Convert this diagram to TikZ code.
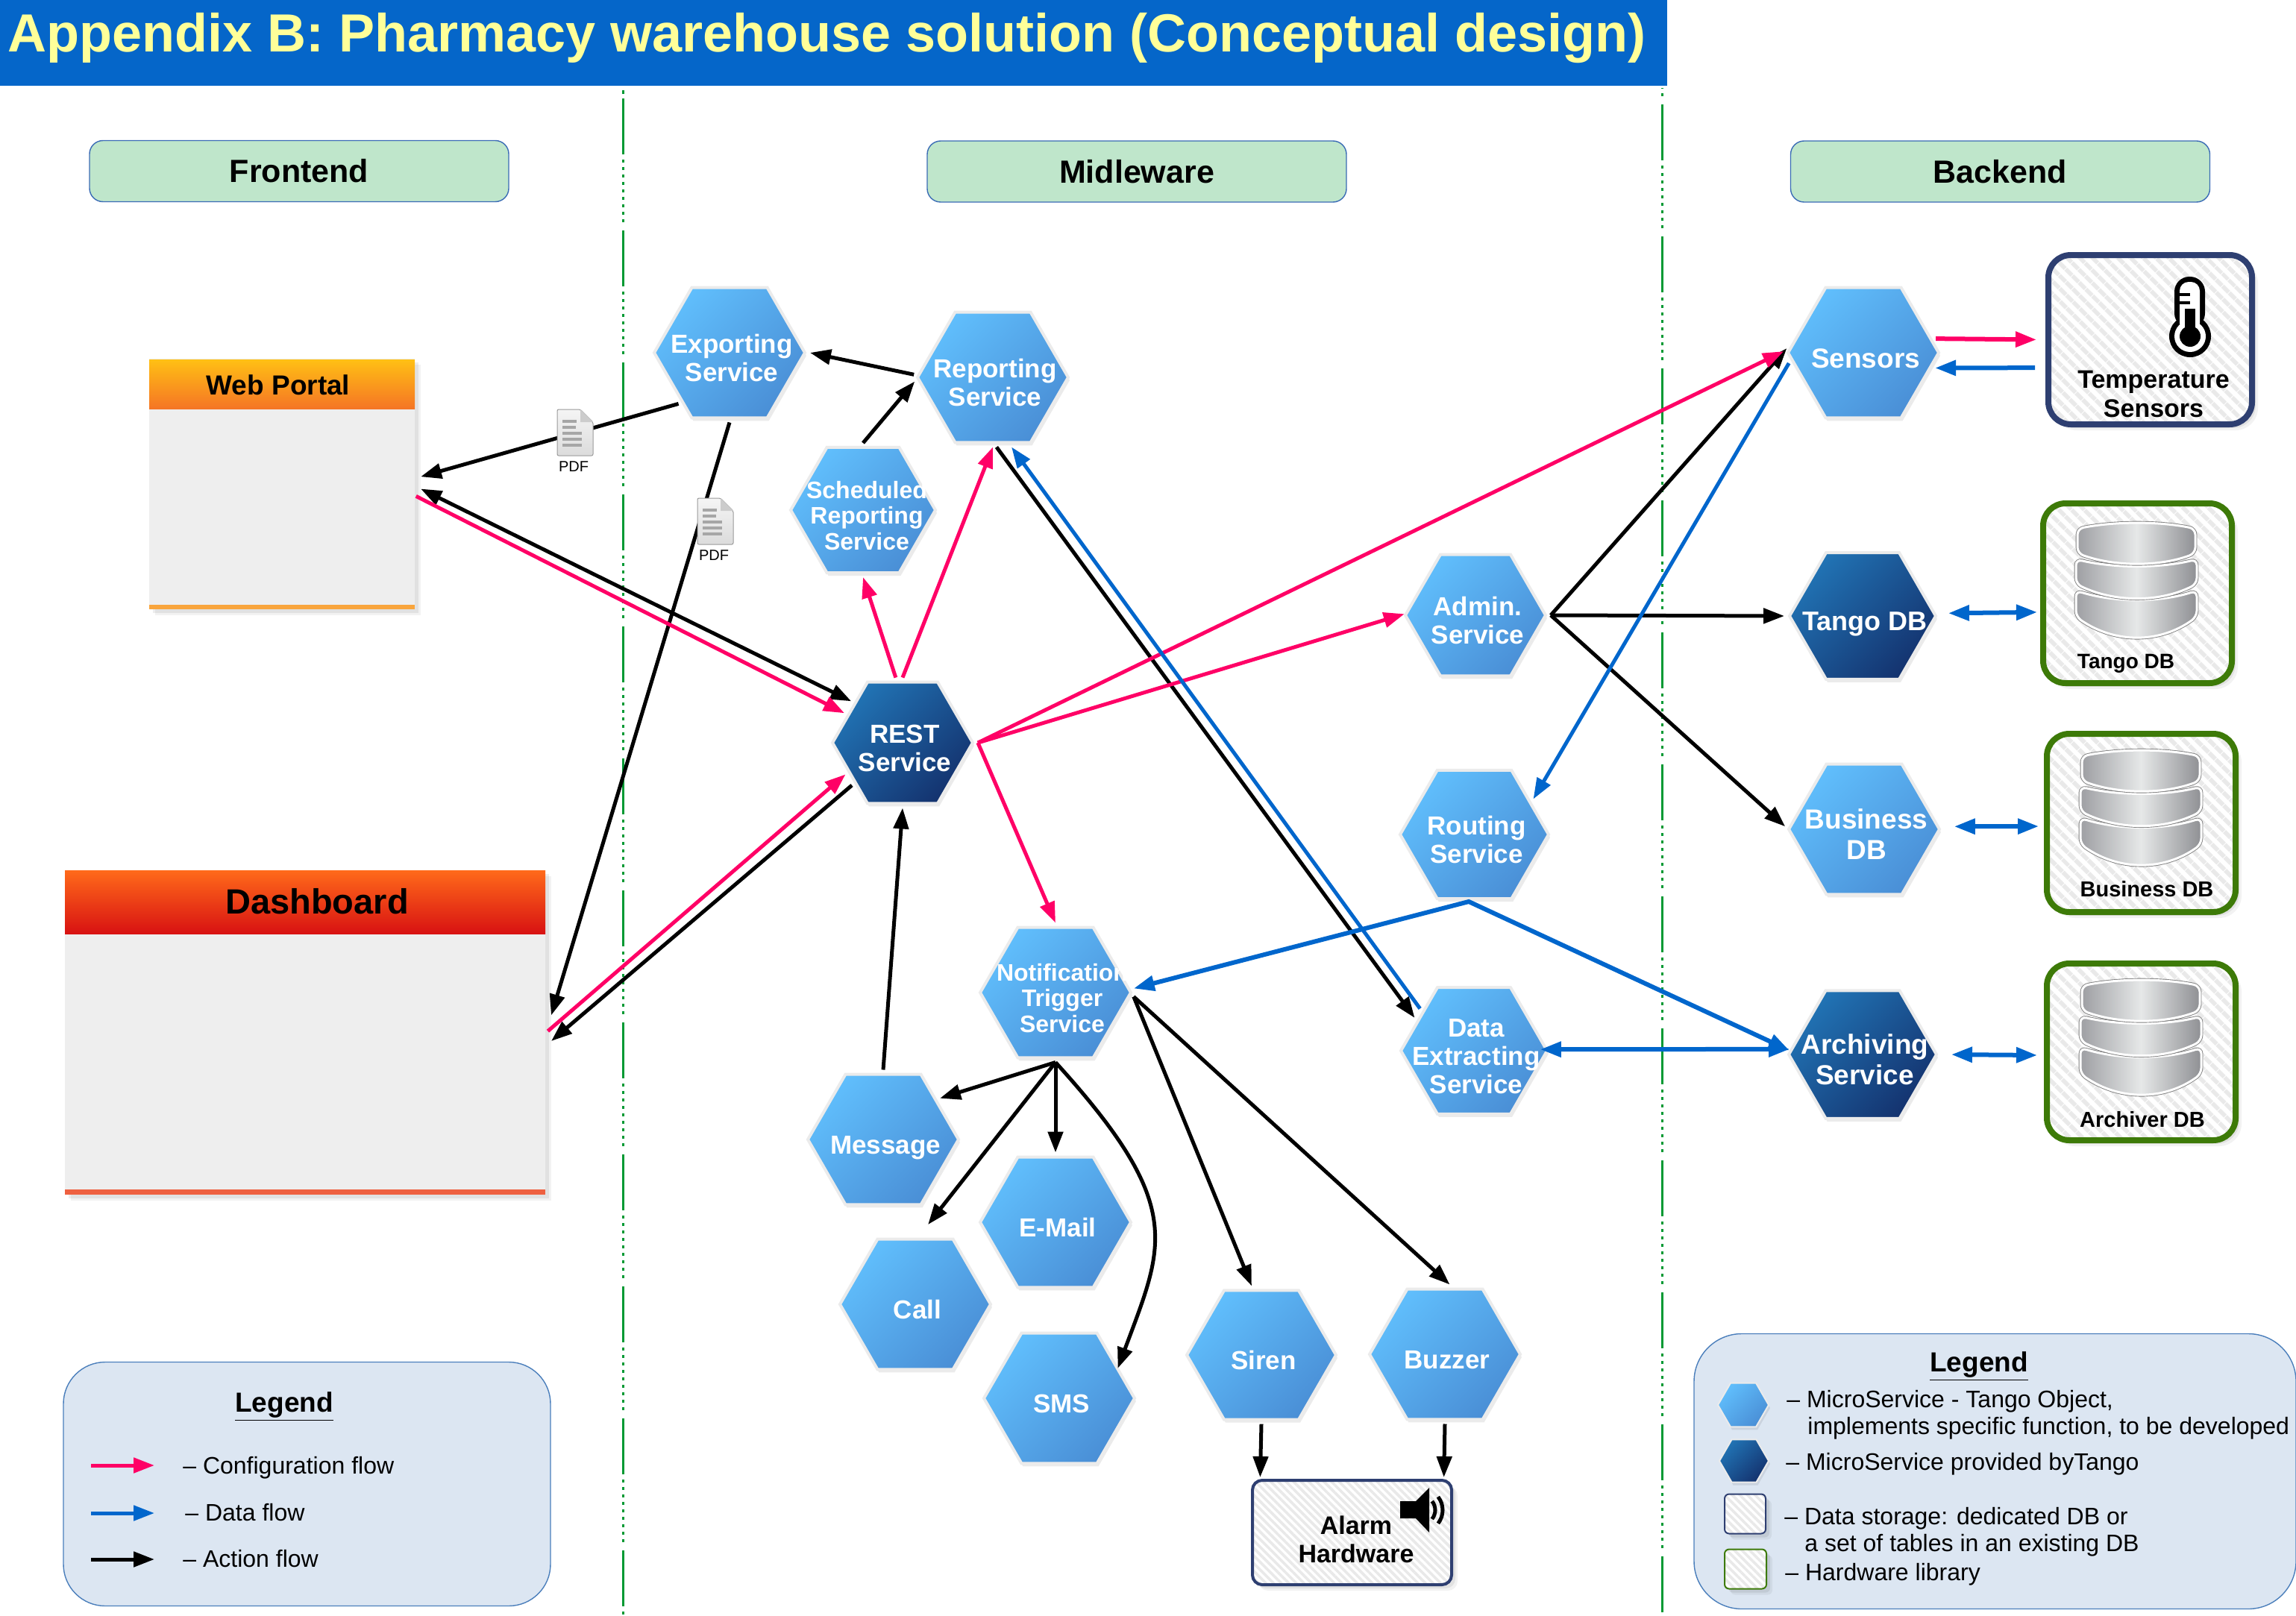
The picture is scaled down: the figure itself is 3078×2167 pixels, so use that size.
\documentclass[tikz,border=0pt]{standalone}
\usepackage{fontspec}
\setmainfont{Liberation Sans}
\usetikzlibrary{arrows.meta,shapes.geometric,shadows,patterns.meta}
\definecolor{titleblue}{HTML}{0566C9}
\definecolor{titleyellow}{HTML}{FFFF99}
\definecolor{divgreen}{HTML}{009933}
\definecolor{hdrgreen}{HTML}{BFE6CB}
\definecolor{edgeblue}{HTML}{3A6BB5}
\definecolor{legfill}{HTML}{DCE6F2}
\definecolor{legedge}{HTML}{4A7EBB}
\definecolor{hexa}{HTML}{60BEFC}
\definecolor{hexb}{HTML}{4A8FD6}
\definecolor{hexc}{HTML}{2173B4}
\definecolor{hexd}{HTML}{14336F}
\definecolor{hexedge}{HTML}{EBEBEB}
\definecolor{navybox}{HTML}{2E3F71}
\definecolor{greenbox}{HTML}{3D7A08}
\definecolor{hatchgray}{HTML}{E9E9E9}
\definecolor{panelgray}{HTML}{EEEEEE}
\definecolor{flowpinkc}{HTML}{FF0066}
\definecolor{flowbluec}{HTML}{0066CC}
\definecolor{webtop}{HTML}{FFC014}
\definecolor{webbot}{HTML}{F57525}
\definecolor{webstrip}{HTML}{F9A53C}
\definecolor{dashtop}{HTML}{FF6A1A}
\definecolor{dashbot}{HTML}{D81212}
\definecolor{dashstrip}{HTML}{EE6040}
\definecolor{dbleft}{HTML}{9E9FA3}
\definecolor{dbmid}{HTML}{E6E8E8}
\definecolor{dbright}{HTML}{8F9094}
\newcommand\hxat[3]{\pgfmathsetmacro\hxbl{#1*1.09}\fontsize{#1}{\hxbl}\selectfont\smash{\makebox[0pt]{\hspace{#2}\raisebox{-10.3pt}{\begin{tabular}{@{}c@{}}#3\end{tabular}}}}}
\newcommand\hx[2][17.5]{\hxat{#1}{3pt}{#2}}
\newcommand\dbicon[2]{%
  \begin{scope}[shift={(#1,#2)}]
    \path[dblayer] (-2,90) .. controls (50,106) and (110,106) .. (160,90) -- (160,125) .. controls (110,161) and (50,161) .. (-2,125) -- cycle;
    \path[dblayer] (-2,48) .. controls (50,60) and (110,60) .. (160,48) -- (160,81) .. controls (110,106) and (50,106) .. (-2,81) -- cycle;
    \path[dblayer] (0,7) .. controls (50,-3) and (110,-3) .. (158,7) -- (158,40) .. controls (110,58) and (50,58) .. (0,40) -- cycle;
  \end{scope}}
\newcommand\pdficon[2]{%
  \begin{scope}[shift={(#1,#2)}]
    \path[draw=black!40,line width=.5pt,top color=white!96!black,bottom color=black!14,rounded corners=1pt] (0,0) -- (31,0) -- (48,17) -- (48,62) -- (0,62) -- cycle;
    \fill[black!20] (31,0) -- (31,17) -- (48,17) -- cycle;
    \foreach \yy/\xx in {16/26,24/25,32/33,40/33,48/33}{\draw[black!35,line width=1.8pt] (7,\yy) -- (\xx,\yy);}
  \end{scope}}
\tikzset{
  x=.5pt,y=-.5pt,
  softshadow/.style={drop shadow={shadow xshift=4pt,shadow yshift=-4pt,opacity=.05,fill=black},drop shadow={shadow xshift=2.5pt,shadow yshift=-2.5pt,opacity=.07,fill=black}},
  hexbase/.style={regular polygon,regular polygon sides=6,inner sep=0pt,outer sep=3pt,minimum size=101pt,draw=hexedge,line width=2pt,text=white,font=\bfseries,drop shadow={shadow xshift=1pt,shadow yshift=-2pt,opacity=.08,fill=black}},
  lhex/.style={hexbase,top color=hexa,bottom color=hexb,shading angle=45},
  dhex/.style={hexbase,top color=hexc,bottom color=hexd,shading angle=45},
  hdr/.style={rectangle,rounded corners=9pt,draw=edgeblue,line width=.7pt,fill=hdrgreen,minimum width=281pt,minimum height=41pt,inner sep=0pt,font=\fontsize{21.5}{25}\selectfont\bfseries},
  panel/.style={rectangle,fill=panelgray,inner sep=0pt,outer sep=4pt,softshadow},
  hatchbox/.style={rectangle,softshadow,preaction={fill=white},pattern={Lines[angle=-45,distance=6.5pt,line width=3.2pt]},pattern color=hatchgray,inner sep=0pt,outer sep=2pt,rounded corners=15pt,line width=4pt},
  finehatch/.style={rectangle,softshadow,preaction={fill=white},pattern={Lines[angle=-45,distance=3.6pt,line width=1.8pt]},pattern color=hatchgray,inner sep=0pt,outer sep=2pt},
  txt/.style={inner sep=0pt,font=\bfseries},
  legt/.style={inner sep=0pt,anchor=base west,font=\fontsize{16}{19}\selectfont},
  legbox/.style={rectangle,draw=legedge,line width=.7pt,fill=legfill,inner sep=0pt},
  divider/.style={divgreen,line width=1.5pt,dash pattern={on 37.5pt off 3.5pt on 2pt off 3pt on 2pt off 3pt on 2pt off 3pt on 2pt off 3pt on 2pt off 3pt on 2pt off 3pt on 2pt off 3pt on 2pt off 3pt on 2pt off 5.5pt}},
  conn/.style={line width=2.5pt,-{Triangle[length=14pt,width=10pt]}},
  both/.style={line width=3pt,{Triangle[length=14pt,width=10pt]}-{Triangle[length=14pt,width=10pt]}},
  flowpink/.style={conn,color=flowpinkc},
  flowblue/.style={conn,color=flowbluec},
  flowblack/.style={conn,color=black},
  dblayer/.style={preaction={draw=black!50,line width=2.4pt},draw=white,line width=1.5pt,left color=dbleft,right color=dbright,middle color=dbmid,rounded corners=4pt},
}
\begin{document}
\begin{tikzpicture}
\path[use as bounding box] (0,0) rectangle (3078,2167);
% dividers
\coordinate (d0a) at (835,121); \coordinate (d0b) at (835,126);
\coordinate (d1a) at (835,122); \coordinate (d1b) at (835,2167);
\coordinate (d2a) at (2228,118); \coordinate (d2b) at (2228,2167);
\draw[divgreen,line width=1.5pt] (d0a) -- (d0b);
\draw[divider,dash phase=83.5pt] (d1a) -- (d1b);
\draw[divider,dash phase=77.5pt] (d2a) -- (d2b);
% title
\node[rectangle,fill=titleblue,minimum width=1117.5pt,minimum height=57.5pt,inner sep=0pt] (titlebar) at (1117.5,57.5) {};
\node[anchor=base west,inner sep=0pt,text=titleyellow,font=\fontsize{36}{40}\selectfont\bfseries] (title) at (10,70) {Appendix B: Pharmacy warehouse solution (Conceptual design)};
% column heads
\node[hdr] (front) at (401,229.5) {Frontend};
\node[hdr] (mid) at (1524,230) {Midleware};
\node[hdr] (back) at (2681.5,230) {Backend};
% web portal
\node[panel,minimum width=178pt,minimum height=168pt] (web) at (378,649) {};
\node[rectangle,top color=webtop,bottom color=webbot,minimum width=178pt,minimum height=33pt,inner sep=0pt] (webhead) at (378,515) {};
\node[txt,font=\fontsize{18.5}{22}\selectfont\bfseries] (webtext) at (373,516) {Web Portal};
\fill[webstrip] (200,811) rectangle (556,817);
% dashboard
\node[panel,minimum width=322pt,minimum height=217.5pt] (dashb) at (409,1384.5) {};
\node[rectangle,top color=dashtop,bottom color=dashbot,minimum width=322pt,minimum height=42.5pt,inner sep=0pt] (dashhead) at (409,1209.5) {};
\node[txt,font=\fontsize{23.5}{27}\selectfont\bfseries] (dashtext) at (425,1209) {Dashboard};
\fill[dashstrip] (87,1595) rectangle (731,1602);
% hardware and storage boxes
\node[hatchbox,draw=navybox,minimum width=136.5pt,minimum height=113.5pt] (temp) at (2882.5,455.5) {};
\node[hatchbox,draw=greenbox,minimum width=126.5pt,minimum height=120.5pt] (tangobox) at (2865.5,795.5) {};
\node[hatchbox,draw=greenbox,minimum width=126.5pt,minimum height=119.5pt] (bizbox) at (2870.5,1103.5) {};
\node[hatchbox,draw=greenbox,minimum width=126.5pt,minimum height=118.5pt] (archbox) at (2870.5,1410.5) {};
\node[finehatch,draw=navybox,rounded corners=6.5pt,line width=2pt,minimum width=133.5pt,minimum height=70pt] (alarm) at (1812.5,2055) {};
\node[txt,align=center,font=\fontsize{17}{19.5}\selectfont\bfseries] (temptext) at (2887,528) {Temperature\\Sensors};
\node[txt,align=center,font=\fontsize{17}{19}\selectfont\bfseries] (alarmtext) at (1818,2064) {Alarm\\Hardware};
\dbicon{2785}{702}
\dbicon{2791}{1007}
\dbicon{2791}{1315}
\node[txt,font=\fontsize{14}{16}\selectfont\bfseries] (tangolab) at (2850,890) {Tango DB};
\node[txt,font=\fontsize{14.5}{16}\selectfont\bfseries] (bizlab) at (2878,1192) {Business DB};
\node[txt,font=\fontsize{14.5}{16}\selectfont\bfseries] (archlab) at (2872,1501) {Archiver DB};
% thermometer
\fill[black] (2936,451) circle[radius=28];
\fill[black,rounded corners=10pt] (2915,371) rectangle (2956,440);
\fill[white] (2936,451) circle[radius=21];
\fill[white,rounded corners=6pt] (2922,378) rectangle (2949,445);
\fill[black] (2936,451) circle[radius=14];
\fill[black] (2929,414) rectangle (2943,451);
\fill[black] (2922,393) rectangle (2936,397);
\fill[black] (2922,404) rectangle (2936,408);
% speaker
\fill[black] (1877,2013) -- (1898,2013) -- (1916,1995) -- (1916,2055) -- (1898,2036) -- (1877,2036) -- cycle;
\draw[black,line width=2.5pt] (1905,2025) ++(-39:19) arc[start angle=-39,end angle=39,radius=19];
\draw[black,line width=2.5pt] (1905,2025) ++(-38:29) arc[start angle=-38,end angle=38,radius=29];
% services
\node[lhex] (export) at (978,473) {\hx{Exporting\\Service}};
\node[lhex] (report) at (1331,506) {\hx{Reporting\\Service}};
\node[lhex,minimum size=97pt] (sched) at (1157,684) {\hxat{16}{5pt}{Scheduled\\Reporting\\Service}};
\node[dhex,minimum size=94pt] (rest) at (1210,996) {\hx{REST\\Service}};
\node[lhex,minimum size=94pt] (admin) at (1978,825) {\hx{Admin.\\Service}};
\node[lhex,minimum size=99.5pt] (routing) at (1976.5,1119) {\hx{Routing\\Service}};
\node[lhex] (bizdb) at (2499,1112) {\hx[18.5]{Business\\DB}};
\node[dhex,minimum size=98pt] (tangodb) at (2497,826) {\hx[18]{Tango DB}};
\node[lhex] (sensors) at (2498,473) {\hx[18.5]{Sensors}};
\node[dhex,minimum size=99pt] (archiving) at (2497,1414) {\hx[18.5]{Archiving\\Service}};
\node[lhex,minimum size=98pt] (extract) at (1976,1409) {\hx{Data\\Extracting\\Service}};
\node[lhex] (notify) at (1415,1331) {\hxat{16}{9pt}{Notification\\Trigger\\Service}};
\node[lhex] (message) at (1184,1528) {\hx{Message}};
\node[lhex] (email) at (1415,1639) {\hx{E-Mail}};
\node[lhex] (call) at (1227,1749) {\hx{Call}};
\node[lhex] (sms) at (1420,1875) {\hx{SMS}};
\node[lhex,minimum size=100pt] (siren) at (1691,1817) {\hx{Siren}};
\node[lhex] (buzzer) at (1937,1816) {\hx{Buzzer}};
% black flows
\draw[flowblack] (export.225) -- (web.3);
\draw[flowblack] (export.270) -- (dashb.4);
\draw[flowblack] (report.178) -- (export.0);
\draw[flowblack] (sched.90) -- (report.183);
\draw[color=black,line width=2.5pt,{Triangle[length=14pt,width=10pt]}-{Triangle[length=14pt,width=10pt]}] (rest.141) -- (web.358);
\draw[flowblack] (rest.220) -- (dashb.358);
\draw[flowblack] (message.90) -- (rest.270);
\draw[flowblack] (notify.270) -- (message.36);
\draw[flowblack,shorten >=8.5pt] (notify.270) -- (call.86);
\draw[flowblack] (notify.270) -- (email.90);
\draw[flowblack,shorten >=-3.5pt] (notify.270) .. controls (1591,1618) and (1560,1669) .. (sms.30);
\draw[flowblack] (notify.357) -- (siren.98);
\draw[flowblack] (notify.357) -- (buzzer.86);
\draw[flowblack] (siren.270) -- (alarm.149);
\draw[flowblack] (buzzer.270) -- (alarm.31);
\draw[flowblack] (report.273) -- (extract.151);
\draw[flowblack,shorten >=-4pt] (admin.0) -- (sensors.180);
\draw[flowblack] (admin.0) -- (tangodb.180);
\draw[flowblack] (admin.0) -- (bizdb.178);
% pink flows
\draw[flowpink,shorten <=-3.5pt] (web.354) -- (rest.153);
\draw[flowpink,shorten <=-3pt] (dashb.1) -- (rest.209);
\draw[flowpink] (rest.96) -- (sched.270);
\draw[flowpink] (rest.90) -- (report.270);
\draw[flowpink,shorten >=-3pt] (rest.0) -- (admin.180);
\draw[flowpink] (rest.0) -- (sensors.179);
\draw[flowpink] (rest.0) -- (notify.90);
\draw[flowpink,line width=3pt,shorten >=6pt] (sensors.11) -- (temp.180);
% blue flows
\coordinate (peak) at (1969,1209);
\draw[flowblue] (extract.142) -- (report.285);
\draw[flowblue] (sensors.188) -- (routing.31);
\draw[flowblue,line width=3pt,shorten <=7pt,shorten >=0pt] (temp.195) -- (sensors.348);
\draw[both,color=flowbluec,shorten <=6pt,shorten >=2pt] (tangodb.2) -- (tangobox.191);
\draw[both,color=flowbluec,shorten <=7.5pt,shorten >=3.5pt] (bizdb.2) -- (bizbox.182);
\draw[both,color=flowbluec,shorten <=6.5pt,shorten >=4.5pt] (archiving.0) -- (archbox.182);
\draw[both,color=flowbluec,shorten <=-7.5pt,shorten >=-2pt] (extract.1) -- (archiving.176);
\draw[color=flowbluec,line width=3pt,miter limit=10,{Triangle[length=14pt,width=10pt]}-{Triangle[length=14pt,width=10pt]},shorten >=-2pt] (notify.3) -- (peak) -- (archiving.176);
% pdf icons
\pdficon{747}{549}
\pdficon{935}{668}
\node[inner sep=0pt,font=\fontsize{10}{12}\selectfont] (pdf1) at (769,626) {PDF};
\node[inner sep=0pt,font=\fontsize{10}{12}\selectfont] (pdf2) at (957,745) {PDF};
% left legend
\node[legbox,rounded corners=28pt,minimum width=326.5pt,minimum height=163.5pt] (legl) at (411.5,1990) {};
\node[txt,font=\fontsize{18.5}{21}\selectfont\bfseries] (legltitle) at (381,1886) {\underline{Legend}};
\coordinate (pa) at (122,1965); \coordinate (pb) at (207,1965);
\coordinate (ba) at (122,2029); \coordinate (bb) at (207,2029);
\coordinate (ka) at (122,2091); \coordinate (kb) at (207,2091);
\draw[flowpink] (pa) -- (pb);
\draw[flowblue] (ba) -- (bb);
\draw[flowblack] (ka) -- (kb);
\node[legt] (lt1) at (245,1976) {– Configuration flow};
\node[legt] (lt2) at (248,2039) {– Data flow};
\node[legt] (lt3) at (245,2101) {– Action flow};
% right legend
\node[legbox,rounded corners=32pt,minimum width=403.5pt,minimum height=184.5pt] (legr) at (2674.5,1973) {};
\node[txt,font=\fontsize{18.5}{21}\selectfont\bfseries] (legrtitle) at (2653,1832) {\underline{Legend}};
\node[lhex,minimum size=34pt,line width=1pt] (keyl) at (2337,1884) {};
\node[dhex,minimum size=33pt,line width=1pt] (keyd) at (2338,1959) {};
\node[finehatch,draw=navybox,rounded corners=3pt,line width=1pt,minimum width=27.5pt,minimum height=26.5pt] (keys) at (2339.5,2030) {};
\node[finehatch,draw=greenbox,rounded corners=3pt,line width=1pt,minimum width=28pt,minimum height=26.5pt] (keyh) at (2340,2104) {};
\node[legt] (rt1) at (2395,1887) {– MicroService - Tango Object,};
\node[legt] (rt2) at (2423,1923) {implements specific function, to be developed};
\node[legt] (rt3) at (2394,1971) {– MicroService provided byTango};
\node[legt] (rt4) at (2392,2044) {– Data storage: dedicated DB or};
\node[legt] (rt5) at (2419,2080) {a set of tables in an existing DB};
\node[legt] (rt6) at (2393,2119) {– Hardware library};
\end{tikzpicture}
\end{document}
